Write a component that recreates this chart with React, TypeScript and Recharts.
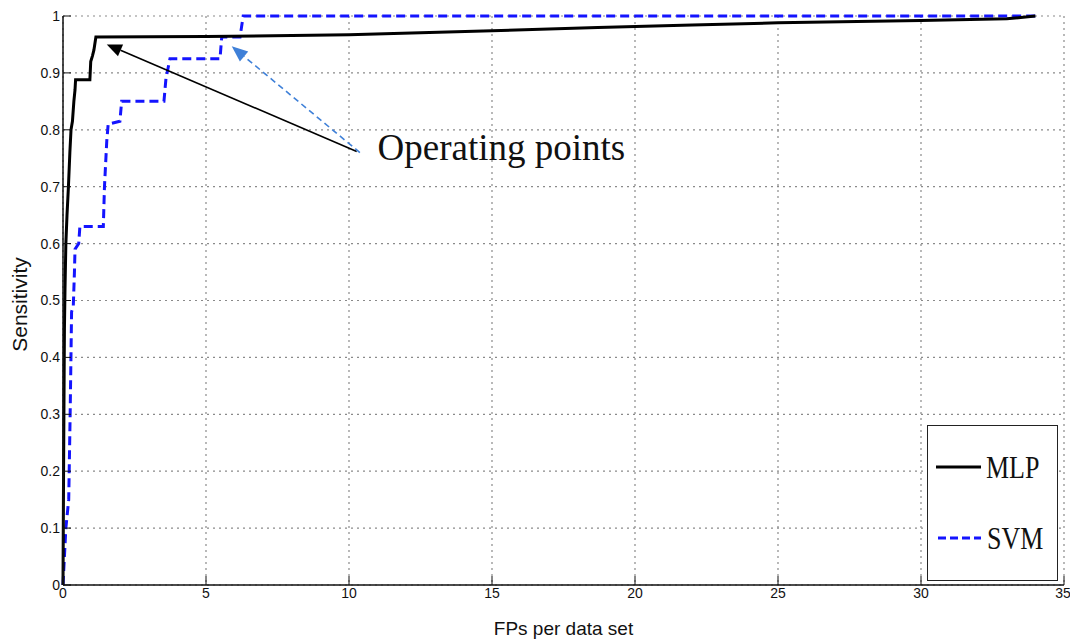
import React from "react";
import {
  CartesianGrid,
  Legend,
  Line,
  LineChart,
  ReferenceDot,
  ReferenceLine,
  XAxis,
  YAxis,
} from "recharts";

// MLP curve (FPs per data set vs sensitivity)
const mlpX = [0, 0.02, 0.04, 0.05, 0.07, 0.1, 0.14, 0.19, 0.24, 0.28, 0.33, 0.38, 0.42, 0.44, 0.94, 0.97, 1.03, 1.08, 1.15, 5, 10, 15, 18.7, 22, 25, 30, 33, 34];
const mlpY = [0, 0.2, 0.37, 0.45, 0.52, 0.6, 0.65, 0.7, 0.76, 0.8, 0.815, 0.85, 0.87, 0.888, 0.888, 0.92, 0.93, 0.94, 0.963, 0.964, 0.967, 0.974, 0.98, 0.984, 0.988, 0.992, 0.995, 1.0];

// SVM curve
const svmX = [0, 0.05, 0.1, 0.2, 0.25, 0.3, 0.36, 0.4, 0.42, 0.55, 0.59, 1.41, 1.45, 1.53, 1.58, 1.99, 2.05, 3.53, 3.6, 3.74, 5.49, 5.55, 6.19, 6.3, 34];
const svmY = [0, 0.05, 0.1, 0.15, 0.3, 0.48, 0.49, 0.55, 0.59, 0.6, 0.63, 0.63, 0.7, 0.78, 0.81, 0.815, 0.85, 0.85, 0.89, 0.925, 0.925, 0.963, 0.963, 1.0, 1.0];

const xTicks = [0, 5, 10, 15, 20, 25, 30, 35];
const yTicks = [0, 0.1, 0.2, 0.3, 0.4, 0.5, 0.6, 0.7, 0.8, 0.9, 1];

// "Operating points" annotation: arrow tails/heads in data units
const blackArrow = [{ x: 10.27, y: 0.762 }, { x: 1.53, y: 0.95 }];
const blueArrow = [{ x: 10.38, y: 0.76 }, { x: 5.9, y: 0.947 }];
const notePos = { x: 11.0, y: 0.7476 };

const mlpData = mlpX.map((x, i) => ({ x, y: mlpY[i] }));
const svmData = svmX.map((x, i) => ({ x, y: svmY[i] }));

const tickFont = {
  fontFamily: "'Liberation Sans Narrow', 'Arial Narrow', 'Liberation Sans', Arial, sans-serif",
  fontSize: 14,
  fill: "#111",
};
const serif = "'Liberation Serif', 'Times New Roman', serif";

function arrowShape(color: string, dashed: boolean, len: number, half: number) {
  return (p: any) => {
    const { x1, y1, x2, y2 } = p;
    const a = Math.atan2(y2 - y1, x2 - x1);
    const bx = x2 - len * Math.cos(a);
    const by = y2 - len * Math.sin(a);
    const nx = -Math.sin(a) * half;
    const ny = Math.cos(a) * half;
    return (
      <g>
        <line
          x1={x1}
          y1={y1}
          x2={bx}
          y2={by}
          stroke={color}
          strokeWidth={1.6}
          strokeDasharray={dashed ? "6 4" : undefined}
        />
        <polygon
          points={`${x2},${y2} ${bx + nx},${by + ny} ${bx - nx},${by - ny}`}
          fill={color}
        />
      </g>
    );
  };
}

function LegendBox() {
  return (
    <div
      style={{
        width: 131,
        height: 156,
        border: "1.5px solid #222",
        background: "#fff",
        boxSizing: "border-box",
      }}
    >
      <svg width={128} height={153}>
        <line x1={8} y1={41} x2={53} y2={41} stroke="#000" strokeWidth={3} />
        <text transform="translate(58 52) scale(1 1.2)" fontFamily={serif} fontSize={26} fill="#111">
          MLP
        </text>
        <line x1={10} y1={112} x2={53} y2={112} stroke="#1414ff" strokeWidth={3} strokeDasharray="8 4" />
        <text transform="translate(59 123) scale(1 1.2)" fontFamily={serif} fontSize={26} fill="#111">
          SVM
        </text>
      </svg>
    </div>
  );
}

export default function App() {
  return (
    <div style={{ position: "absolute", left: 0, top: 0, width: 1070, height: 639, background: "#fff" }}>
      <LineChart width={1070} height={639} margin={{ top: 16, right: 6, bottom: 0, left: 0 }}>
        <CartesianGrid stroke="#8a8a8a" strokeDasharray="2 4" strokeWidth={1.2} />
        <XAxis
          type="number"
          dataKey="x"
          domain={[0, 35]}
          ticks={xTicks}
          height={54}
          tickSize={-9}
          tickMargin={12}
          tick={tickFont}
          stroke="#111"
          axisLine={{ stroke: "#111", strokeWidth: 1.5 }}
          label={{
            value: "FPs per data set",
            position: "insideBottom",
            offset: 4,
            style: { fontFamily: "'Liberation Sans', Arial, sans-serif", fontSize: 19, fill: "#111" },
          }}
        />
        <XAxis
          xAxisId="top"
          orientation="top"
          type="number"
          domain={[0, 35]}
          ticks={xTicks}
          height={0}
          tickSize={-9}
          tickFormatter={() => ""}
          stroke="#333"
        />
        <YAxis
          type="number"
          domain={[0, 1]}
          ticks={yTicks}
          width={63}
          tickSize={-8}
          tickMargin={11}
          tick={tickFont}
          tickFormatter={(v: number) => String(v)}
          stroke="#111"
          axisLine={{ stroke: "#111", strokeWidth: 1.5 }}
          label={{
            content: (p: any) => {
              const vb = p.viewBox || { y: 16, height: 569 };
              const cy = vb.y + vb.height / 2 + 4;
              return (
                <text
                  x={19}
                  y={cy}
                  transform={`rotate(-90 19 ${cy})`}
                  textAnchor="middle"
                  dominantBaseline="central"
                  fontFamily="'Liberation Sans', Arial, sans-serif"
                  fontSize={21}
                  fill="#111"
                >
                  Sensitivity
                </text>
              );
            },
          }}
        />
        <YAxis
          yAxisId="right"
          orientation="right"
          type="number"
          domain={[0, 1]}
          ticks={yTicks}
          width={0}
          tickSize={-8}
          tickFormatter={() => ""}
          stroke="#333"
        />
        <Line
          data={svmData}
          dataKey="y"
          name="SVM"
          type="linear"
          stroke="#1414ff"
          strokeWidth={3}
          strokeDasharray="9 5"
          dot={false}
          isAnimationActive={false}
        />
        <Line
          data={mlpData}
          dataKey="y"
          name="MLP"
          type="linear"
          stroke="#000"
          strokeWidth={3}
          dot={false}
          isAnimationActive={false}
        />
        <ReferenceLine
          segment={blackArrow}
          shape={arrowShape("#000", false, 15, 6.5)}
        />
        <ReferenceLine
          segment={blueArrow}
          shape={arrowShape("#3f80d8", true, 16, 6.5)}
        />
        <ReferenceDot
          x={notePos.x}
          y={notePos.y}
          r={0}
          shape={(p: any) => (
            <text x={p.cx} y={p.cy} fontFamily={serif} fontSize={37} fill="#111">
              Operating points
            </text>
          )}
        />
        <Legend
          layout="horizontal"
          verticalAlign="middle"
          align="center"
          content={() => <LegendBox />}
          wrapperStyle={{ left: 927, top: 425, width: 131, height: 156 }}
        />
      </LineChart>
    </div>
  );
}
